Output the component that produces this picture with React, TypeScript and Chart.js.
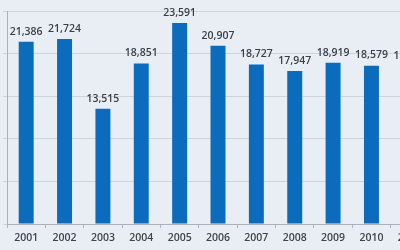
import React, { useEffect, useRef } from "react";
import { Chart, registerables } from "chart.js";

Chart.register(...registerables);

const categories = ["2001", "2002", "2003", "2004", "2005", "2006", "2007", "2008", "2009", "2010", "2011"];
const values = [21386, 21724, 13515, 18851, 23591, 20907, 18727, 17947, 18919, 18579, 18512];
const yTicks = [0, 5000, 10000, 15000, 20000, 25000];

const valueLabels = {
  id: "valueLabels",
  afterDatasetsDraw(chart: any) {
    const ctx = chart.ctx;
    const meta = chart.getDatasetMeta(0);
    ctx.save();
    ctx.fillStyle = "#3a3f45";
    ctx.font = "600 10.5px 'Open Sans'";
    ctx.textAlign = "center";
    ctx.textBaseline = "bottom";
    meta.data.forEach((bar: any, i: number) => {
      ctx.fillText(values[i].toLocaleString("en-US"), bar.x, bar.y - 5);
    });
    ctx.restore();
  },
};

export default function App() {
  const ref = useRef<HTMLCanvasElement>(null);
  useEffect(() => {
    const chart = new Chart(ref.current!, {
      type: "bar",
      data: {
        labels: categories,
        datasets: [
          {
            data: values,
            backgroundColor: "#0b6cbd",
            barPercentage: 0.39,
            categoryPercentage: 1,
          },
        ],
      },
      options: {
        animation: false,
        responsive: false,
        maintainAspectRatio: false,
        layout: { padding: { left: 0, top: 11, right: 11, bottom: 0 } },
        plugins: { legend: { display: false }, tooltip: { enabled: false } },
        scales: {
          x: {
            grid: { display: true, drawOnChartArea: false, drawTicks: true, tickLength: 4, color: "#a9b1ba" },
            border: { color: "#a9b1ba" },
            ticks: { color: "#3f444a", font: { family: "'Open Sans'", size: 10.5, weight: 600 }, padding: 4, maxRotation: 0, autoSkip: false },
            afterFit(scale: any) { scale.height = 26; },
          },
          y: {
            min: 0,
            max: 25000,
            afterBuildTicks(scale: any) { scale.ticks = yTicks.map((v) => ({ value: v })); },
            grid: { color: "#cdd4dc", drawTicks: true, tickLength: 4 },
            border: { color: "#a9b1ba" },
            ticks: { display: false },
            afterFit(scale: any) { scale.width = 7; },
          },
        },
      },
      plugins: [valueLabels],
    });
    return () => chart.destroy();
  }, []);
  return (
    <div style={{ position: "fixed", left: 0, top: 0, width: 400, height: 250, overflow: "hidden", background: "#e9eef5" }}>
      <canvas ref={ref} width={440} height={250} style={{ display: "block", width: 440, height: 250 }} />
    </div>
  );
}
